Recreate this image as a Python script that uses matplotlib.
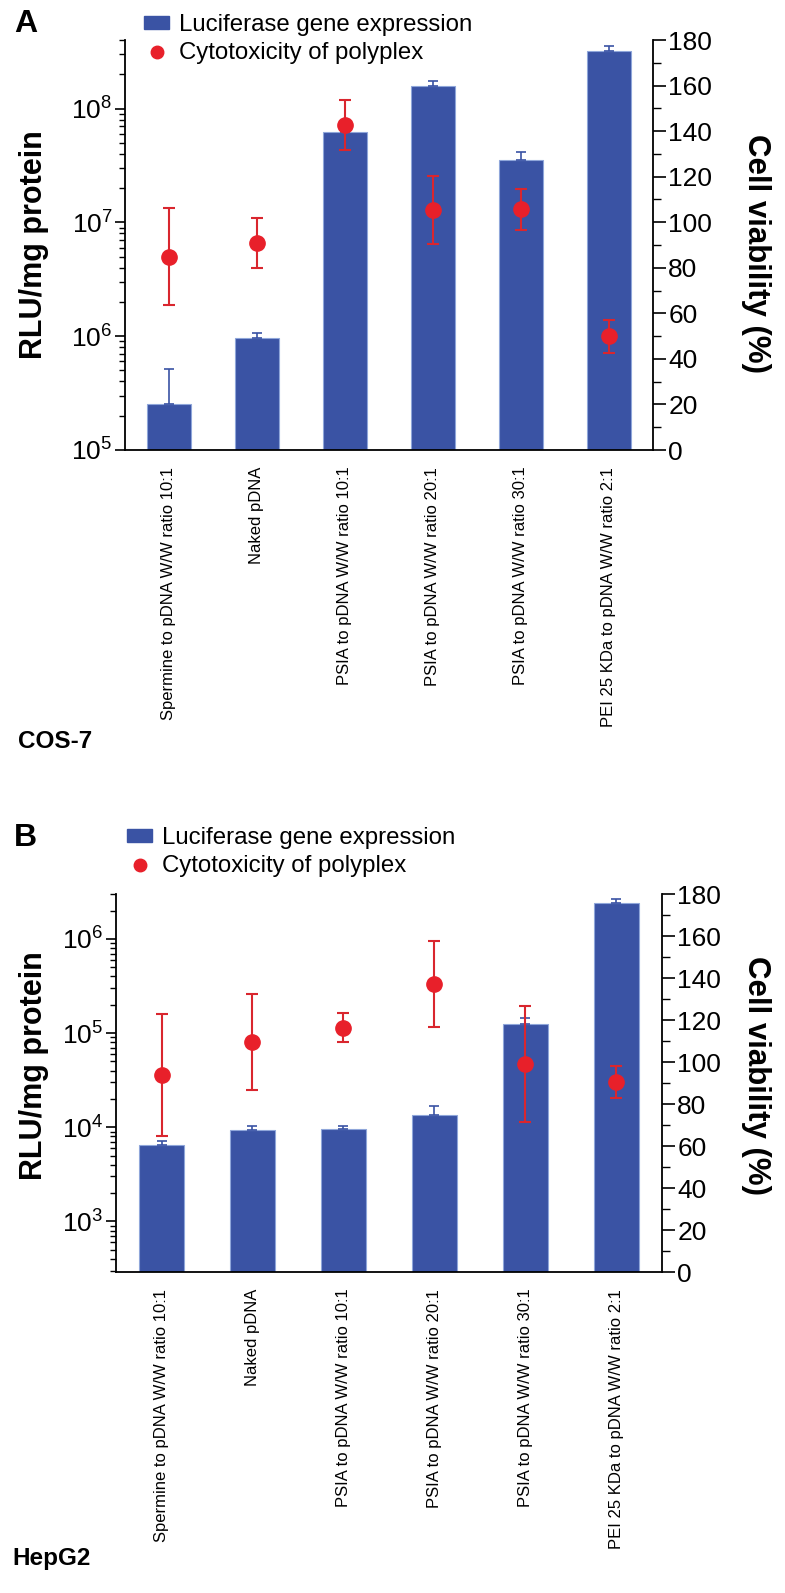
import matplotlib
matplotlib.use("Agg")
import matplotlib.pyplot as plt
import numpy as np
from matplotlib.patches import Patch
from matplotlib.lines import Line2D
from matplotlib.ticker import LogLocator, MultipleLocator

plt.rcParams['font.family'] = ['Liberation Sans', 'DejaVu Sans']
plt.rcParams['mathtext.default'] = 'regular'

categories = ["Spermine to pDNA W/W ratio 10:1", "Naked pDNA",
              "PSIA to pDNA W/W ratio 10:1", "PSIA to pDNA W/W ratio 20:1",
              "PSIA to pDNA W/W ratio 30:1", "PEI 25 KDa to pDNA W/W ratio 2:1"]

cos7_rlu = [2.55e5, 9.7e5, 6.2e7, 1.58e8, 3.54e7, 3.19e8]
cos7_rlu_err = [2.65e5, 1.0e5, 5.0e6, 1.7e7, 6.0e6, 3.2e7]
cos7_viab = [84.8, 90.7, 142.5, 105.3, 105.6, 49.9]
cos7_viab_err = [21.3, 11.0, 11.0, 15.0, 8.8, 7.3]

hepg2_rlu = [6.4e3, 9.4e3, 9.5e3, 1.36e4, 1.25e5, 2.4e6]
hepg2_rlu_err = [0.7e3, 1.0e3, 0.7e3, 3.3e3, 1.8e4, 2.5e5]
hepg2_viab = [94.0, 109.5, 116.3, 137.3, 99.1, 90.4]
hepg2_viab_err = [29.0, 23.0, 6.8, 20.5, 27.5, 7.6]

series_labels = ["Luciferase gene expression", "Cytotoxicity of polyplex"]

BLUE = '#3A53A4'
EDGE = '#8FA6DA'
RED = '#E8202A'
ERR_RED = '#D9262E'

W, H = 785, 1593
fig = plt.figure(figsize=(W / 100, H / 100), dpi=100)


def make_panel(rect, rlu, rlu_err, viab, viab_err, ylim, letter, cell, letter_xy,
               cell_xy, legend_xy, ylab_x, ylab_y, rlab_x, rlab_y):
    l, t, r, b = rect
    ax = fig.add_axes([l / W, 1 - b / H, (r - l) / W, (b - t) / H])
    x = np.arange(len(categories))
    ax.bar(x, rlu, width=0.5, color=BLUE, edgecolor=EDGE, linewidth=0.8, zorder=2)
    ax.errorbar(x, rlu, yerr=[np.zeros(len(rlu)), rlu_err], fmt='none',
                ecolor=BLUE, elinewidth=1.2, capsize=3.5, capthick=1.2, zorder=3)
    ax.set_yscale('log')
    ax.set_ylim(*ylim)
    ax.set_xlim(-0.5, len(categories) - 0.5)
    ax.yaxis.set_major_locator(LogLocator(base=10, numticks=20))
    ax.yaxis.set_minor_locator(LogLocator(base=10, subs=np.arange(2, 10), numticks=20))
    ax.set_xticks(x)
    ax.set_xticklabels(categories, rotation=90, fontsize=12, va='top', ha='center')
    ax.tick_params(axis='x', length=0, pad=12)
    ax.tick_params(axis='y', which='major', length=7, width=1.2, labelsize=19, pad=2)
    ax.tick_params(axis='y', which='minor', length=4, width=1.0)
    for s in ['top', 'right']:
        ax.spines[s].set_visible(False)
    ax.spines['left'].set_linewidth(1.3)
    ax.spines['bottom'].set_linewidth(1.3)

    ax2 = ax.twinx()
    ax2.errorbar(x, viab, yerr=viab_err, fmt='o', color=RED, ecolor=ERR_RED,
                 markersize=11, elinewidth=1.5, capsize=4, capthick=1.5, zorder=4)
    ax2.set_ylim(0, 180)
    ax2.yaxis.set_major_locator(MultipleLocator(20))
    ax2.yaxis.set_minor_locator(MultipleLocator(10))
    ax2.tick_params(axis='y', which='major', length=9, width=1.2, labelsize=19, pad=2)
    ax2.tick_params(axis='y', which='minor', length=6, width=1.0)
    for s in ['top', 'left', 'bottom']:
        ax2.spines[s].set_visible(False)
    ax2.spines['right'].set_linewidth(1.3)

    ax.set_ylabel("RLU/mg protein", fontsize=22, fontweight='bold')
    ax.yaxis.set_label_coords(ylab_x, ylab_y)
    ax.yaxis.label.set_va('center')
    ax2.set_ylabel("Cell viability (%)", fontsize=22.5, fontweight='bold', rotation=270)
    ax2.yaxis.set_label_coords(rlab_x, rlab_y)
    ax2.yaxis.label.set_va('center')

    handles = [Patch(facecolor=BLUE, edgecolor=BLUE),
               Line2D([], [], marker='o', color=RED, linestyle='none', markersize=9)]
    fig.legend(handles, series_labels, loc='upper left',
               bbox_to_anchor=(legend_xy[0] / W, 1 - legend_xy[1] / H),
               frameon=False, fontsize=17.3, handlelength=1.05, handleheight=0.42,
               handletextpad=0.42, labelspacing=0.25, borderpad=0, borderaxespad=0)

    fig.text(letter_xy[0] / W, 1 - letter_xy[1] / H, letter, fontsize=23,
             fontweight='bold', ha='left', va='center')
    fig.text(cell_xy[0] / W, 1 - cell_xy[1] / H, cell, fontsize=17.5,
             fontweight='bold', ha='left', va='center')
    return ax, ax2


make_panel((125, 40, 653, 450), cos7_rlu, cos7_rlu_err, cos7_viab, cos7_viab_err,
           (1e5, 4e8), "A", "COS-7", (14, 24), (18, 742), (144, 14),
           -0.172, 0.5, 1.195, 0.48)

make_panel((116, 894, 662, 1272), hepg2_rlu, hepg2_rlu_err, hepg2_viab, hepg2_viab_err,
           (2.9e2, 3.0e6), "B", "HepG2", (14, 838), (12, 1558), (127, 827),
           -0.150, 0.545, 1.172, 0.52)

fig.savefig("out.png", dpi=100)
